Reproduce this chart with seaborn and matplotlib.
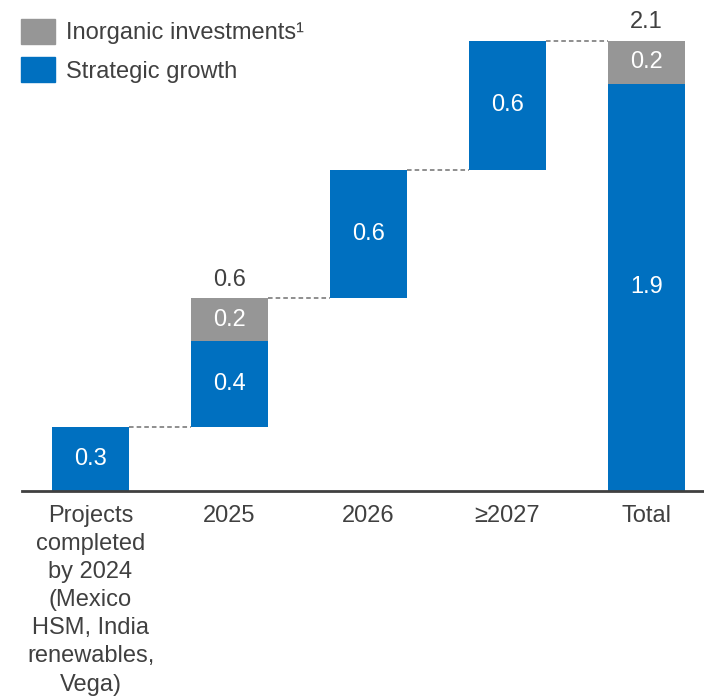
import matplotlib
matplotlib.use("Agg")
import matplotlib.pyplot as plt
import matplotlib.patches as mpatches
import numpy as np
import pandas as pd
import seaborn as sns

# Waterfall data (USD bn)
categories = ["Projects\ncompleted\nby 2024\n(Mexico\nHSM, India\nrenewables,\nVega)",
              "2025", "2026", "≥2027", "Total"]
strategic = [0.3, 0.4, 0.6, 0.6, 1.9]
inorganic = [0.0, 0.2, 0.0, 0.0, 0.2]
totals_shown = {1: "0.6", 4: "2.1"}

BLUE = "#0070C0"
GREY = "#969696"
TEXT = "#404040"

sns.set_theme(style="white")
plt.rcParams["font.family"] = ["Liberation Sans", "DejaVu Sans"]
plt.rcParams["text.color"] = TEXT

# Floating bases: each step starts where the previous one ended; Total starts at zero
steps = [s + i for s, i in zip(strategic, inorganic)]
bases = [0.0]
for v in steps[:-2]:
    bases.append(bases[-1] + v)
bases.append(0.0)
bases = np.array(bases)
tops = bases + np.array(steps)

df = pd.DataFrame({
    "category": categories,
    "strategic": strategic,
    "inorganic": inorganic,
    "base": bases,
})

fig = plt.figure(figsize=(7.04, 7.00), dpi=100)
ax = fig.add_axes([22 / 704, 1 - 491 / 700, 1 - 22 / 704, 491 / 700])

bar_w = 0.554
sns.barplot(data=df, x="category", y="strategic", order=categories,
            bottom=df["base"].values, color=BLUE, saturation=1,
            width=bar_w, ax=ax, errorbar=None, linewidth=0)
sns.barplot(data=df, x="category", y="inorganic", order=categories,
            bottom=(df["base"] + df["strategic"]).values, color=GREY,
            saturation=1, width=bar_w, ax=ax, errorbar=None, linewidth=0)

ax.set_xlim(-0.493, 4.414)
ax.set_ylim(0, 491 / 214.3)

# Dashed connectors between consecutive bars
for i in range(len(categories) - 1):
    ax.plot([i + bar_w / 2, i + 1 - bar_w / 2], [tops[i], tops[i]],
            ls=(0, (3, 2)), color="#707070", lw=1.1)

fs = 17
# Segment labels
for i in range(len(categories)):
    b, s, g = bases[i], strategic[i], inorganic[i]
    ax.text(i, b + s / 2, f"{s:.1f}", ha="center", va="center",
            color="white", fontsize=fs)
    if g > 0:
        ax.text(i, b + s + g / 2, f"{g:.1f}", ha="center", va="center",
                color="white", fontsize=fs)
for i, lab in totals_shown.items():
    ax.text(i, tops[i] + 0.035, lab, ha="center", va="bottom",
            color=TEXT, fontsize=fs)

# Axes styling
for side in ["top", "right", "left"]:
    ax.spines[side].set_visible(False)
ax.spines["bottom"].set_color(TEXT)
ax.spines["bottom"].set_linewidth(2)
ax.set_yticks([])
ax.set_xlabel("")
ax.set_ylabel("")
ax.tick_params(axis="x", length=0, pad=10, labelsize=fs, labelcolor=TEXT)
for t in ax.get_xticklabels():
    t.set_linespacing(1.36)

handles = [mpatches.Patch(color=GREY, label="Inorganic investments¹"),
           mpatches.Patch(color=BLUE, label="Strategic growth")]
fig.legend(handles=handles, loc="upper left",
           bbox_to_anchor=(21 / 704, 1 - 19 / 700), frameon=False,
           fontsize=fs, handlelength=1.44, handleheight=1.25,
           handletextpad=0.46, labelspacing=0.55, borderpad=0,
           borderaxespad=0)

fig.savefig("out.png", dpi=100)
